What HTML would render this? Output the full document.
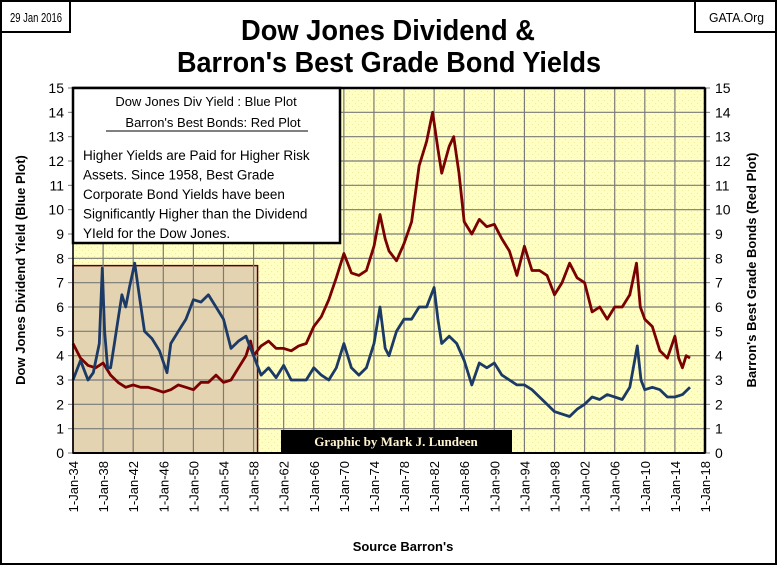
<!DOCTYPE html>
<html><head><meta charset="utf-8"><style>
html,body{margin:0;padding:0;background:#fff;}
body{width:777px;height:565px;overflow:hidden;position:relative;font-family:"Liberation Sans",sans-serif;}
</style></head><body>
<svg width="777" height="565" xmlns="http://www.w3.org/2000/svg">
<defs>
<pattern id="dots" width="6" height="6" patternUnits="userSpaceOnUse"><rect width="6" height="6" fill="#ffffc4"/><rect x="1" y="1" width="1" height="1" fill="#eeeaa0"/><rect x="4" y="4" width="1" height="1" fill="#eeeaa0"/></pattern>
</defs>
<rect x="1" y="1" width="775" height="563" fill="#fff" stroke="#000" stroke-width="2"/>
<rect x="1" y="1" width="69" height="31" fill="#fff" stroke="#000" stroke-width="2"/>
<text x="10" y="22" font-size="13" textLength="52" lengthAdjust="spacingAndGlyphs">29 Jan 2016</text>
<rect x="695" y="1" width="81" height="31" fill="#fff" stroke="#000" stroke-width="2"/>
<text x="709" y="22" font-size="13" textLength="55" lengthAdjust="spacingAndGlyphs">GATA.Org</text>
<text x="241" y="40" font-size="29" font-weight="bold" textLength="294" lengthAdjust="spacingAndGlyphs">Dow Jones Dividend &amp;</text>
<text x="177" y="72" font-size="29" font-weight="bold" textLength="424" lengthAdjust="spacingAndGlyphs">Barron's Best Grade Bond Yields</text>
<g id="plot"></g>
</svg>
<script>
const yTicks=[0,1,2,3,4,5,6,7,8,9,10,11,12,13,14,15];
const xTickYears=[1934,1938,1942,1946,1950,1954,1958,1962,1966,1970,1974,1978,1982,1986,1990,1994,1998,2002,2006,2010,2014,2018];
const blueYears=[1934,1935,1936,1936.7,1937.5,1937.9,1938.2,1938.6,1939,1939.5,1940,1940.5,1941,1941.5,1942.2,1942.8,1943.5,1944.5,1945.5,1946.5,1947,1948,1949,1950,1951,1952,1953,1954,1955,1956,1957,1957.6,1958,1959,1960,1961,1962,1963,1964,1965,1966,1967,1968,1969,1970,1971,1972,1973,1974,1974.8,1975.5,1976,1977,1978,1979,1980,1981,1982,1982.5,1983,1984,1985,1986,1987,1988,1989,1990,1991,1992,1993,1994,1995,1996,1997,1998,1999,2000,2001,2002,2003,2004,2005,2006,2007,2008,2009,2009.5,2010,2011,2012,2013,2014,2015,2016];
const blueValues=[3.0,3.8,3.0,3.3,4.5,7.6,5.0,3.5,3.5,4.5,5.5,6.5,6.0,6.8,7.8,6.5,5.0,4.7,4.2,3.3,4.5,5.0,5.5,6.3,6.2,6.5,6.0,5.5,4.3,4.6,4.8,4.3,4.0,3.2,3.5,3.1,3.6,3.0,3.0,3.0,3.5,3.2,3.0,3.5,4.5,3.5,3.2,3.5,4.5,6.0,4.3,4.0,5.0,5.5,5.5,6.0,6.0,6.8,5.5,4.5,4.8,4.5,3.8,2.8,3.7,3.5,3.7,3.2,3.0,2.8,2.8,2.6,2.3,2.0,1.7,1.6,1.5,1.8,2.0,2.3,2.2,2.4,2.3,2.2,2.7,4.4,3.0,2.6,2.7,2.6,2.3,2.3,2.4,2.7];
const redYears=[1934,1935,1936,1937,1938,1939,1940,1941,1942,1943,1944,1945,1946,1947,1948,1949,1950,1951,1952,1953,1954,1955,1956,1957,1957.6,1958,1959,1960,1961,1962,1963,1964,1965,1966,1967,1968,1969,1970,1971,1972,1973,1974,1974.8,1975.5,1976,1977,1978,1979,1980,1981,1981.8,1982.5,1983,1984,1984.6,1985.3,1986,1987,1988,1989,1990,1991,1992,1993,1994,1995,1996,1997,1998,1999,2000,2001,2002,2003,2004,2005,2006,2007,2008,2008.9,2009.4,2010,2011,2012,2013,2014,2014.5,2015,2015.5,2016];
const redValues=[4.5,3.9,3.6,3.5,3.7,3.2,2.9,2.7,2.8,2.7,2.7,2.6,2.5,2.6,2.8,2.7,2.6,2.9,2.9,3.2,2.9,3.0,3.5,4.0,4.6,4.0,4.4,4.6,4.3,4.3,4.2,4.4,4.5,5.2,5.6,6.3,7.2,8.2,7.4,7.3,7.5,8.5,9.8,8.8,8.3,7.9,8.6,9.5,11.8,12.8,14.0,12.5,11.5,12.6,13.0,11.5,9.5,9.0,9.6,9.3,9.4,8.8,8.3,7.3,8.5,7.5,7.5,7.3,6.5,7.0,7.8,7.2,7.0,5.8,6.0,5.5,6.0,6.0,6.5,7.8,6.0,5.5,5.2,4.2,3.9,4.8,3.9,3.5,4.0,3.9];

const L=73,R=705,T=88,B=453;
const X=yr=>L+(yr-1934)/(2018-1934)*(R-L);
const Y=v=>B-v/15*(B-T);
const NS='http://www.w3.org/2000/svg';
const g=document.getElementById('plot');
function mk(tag,attrs,parent){const e=document.createElementNS(NS,tag);for(const k in attrs)e.setAttribute(k,attrs[k]);(parent||g).appendChild(e);return e;}
let e;
e=mk('rect',{x:L,y:T,width:R-L,height:B-T,fill:'url(#dots)'});


e=mk('rect',{x:L,y:Y(7.7),width:X(1958)-L+4,height:B-Y(7.7),fill:'#e3d3b0',stroke:'#5a0000','stroke-width':1.5});


xTickYears.forEach(yr=>{
  e=mk('line',{x1:X(yr),x2:X(yr),y1:T,y2:B,stroke:'#7a7a7a','stroke-width':1.2});
  
  
  e=mk('text',{x:0,y:0,transform:`translate(${X(yr)+5},${B+8}) rotate(-90)`,'text-anchor':'end','font-size':13,fill:'#000'});
  e.textContent='1-Jan-'+String(yr).slice(2);
  
  
});
yTicks.forEach(v=>{
  e=mk('line',{x1:L,x2:R,y1:Y(v),y2:Y(v),stroke:'#7a7a7a','stroke-width':1.2});
  
  
  mk('line',{x1:L-5,x2:L,y1:Y(v),y2:Y(v),stroke:'#777'});
  mk('line',{x1:R,x2:R+5,y1:Y(v),y2:Y(v),stroke:'#777'});
  e=mk('text',{x:L-9,y:Y(v)+5,'text-anchor':'end','font-size':14});
  e.textContent=v;
  
  
  e=mk('text',{x:R+10,y:Y(v)+5,'text-anchor':'start','font-size':14});
  e.textContent=v;
  
  
});
function line(xs,vs,col,name){
  const d=xs.map((yr,i)=>(i?'L':'M')+X(yr).toFixed(1)+','+Y(vs[i]).toFixed(1)).join('');
  const p=mk('path',{d:d,fill:'none',stroke:col,'stroke-width':2.8,'stroke-linejoin':'round'});
  
  
}
line(redYears,redValues,'#7b0000','bond-yield-red-line');
line(blueYears,blueValues,'#1c3a66','dividend-yield-blue-line');
e=mk('rect',{x:L,y:T,width:R-L,height:B-T,fill:'none',stroke:'#000','stroke-width':1.5});
e=mk('line',{x1:L,x2:R,y1:T,y2:T,stroke:'#000','stroke-width':2.5});
e=mk('line',{x1:R,x2:R,y1:T,y2:B,stroke:'#000','stroke-width':2.5});
e=mk('line',{x1:L,x2:R,y1:B,y2:B,stroke:'#000','stroke-width':2});
e=mk('rect',{x:L,y:T,width:267,height:155,fill:'#fff',stroke:'#000','stroke-width':2.5});


const lt=[['Dow Jones Div Yield : Blue Plot',106,206],["Barron's Best Bonds: Red Plot",127,213]];
lt.forEach(a=>{e=mk('text',{x:a[2],y:a[1],'text-anchor':'middle','font-size':13});e.textContent=a[0];

});
mk('line',{x1:106,x2:308,y1:131,y2:131,stroke:'#000','stroke-width':1});
['Higher Yields are Paid for Higher Risk','Assets.  Since 1958, Best Grade','Corporate  Bond Yields have been','Significantly Higher than the Dividend','YIeld for the Dow Jones.'].forEach((s,i)=>{
  e=mk('text',{x:83,y:160+i*19.5,'font-size':13.5,'xml:space':'preserve'});e.textContent=s;
  
  
});
e=mk('rect',{x:281,y:430,width:231,height:23,fill:'#000'});


e=mk('text',{x:396,y:446,'text-anchor':'middle','font-size':13,'font-weight':'bold','font-family':'Liberation Serif, serif',fill:'#fff4d0'});
e.textContent='Graphic by Mark J. Lundeen';


e=mk('text',{x:0,y:0,transform:'translate(25,270) rotate(-90)','text-anchor':'middle','font-size':13,'font-weight':'bold'});
e.textContent='Dow Jones Dividend Yield (Blue Plot)';


e=mk('text',{x:0,y:0,transform:'translate(756,270) rotate(-90)','text-anchor':'middle','font-size':13,'font-weight':'bold'});
e.textContent="Barron's Best Grade Bonds (Red Plot)";


e=mk('text',{x:403,y:551,'text-anchor':'middle','font-size':13,'font-weight':'bold'});
e.textContent="Source Barron's";


</script>
</body></html>
